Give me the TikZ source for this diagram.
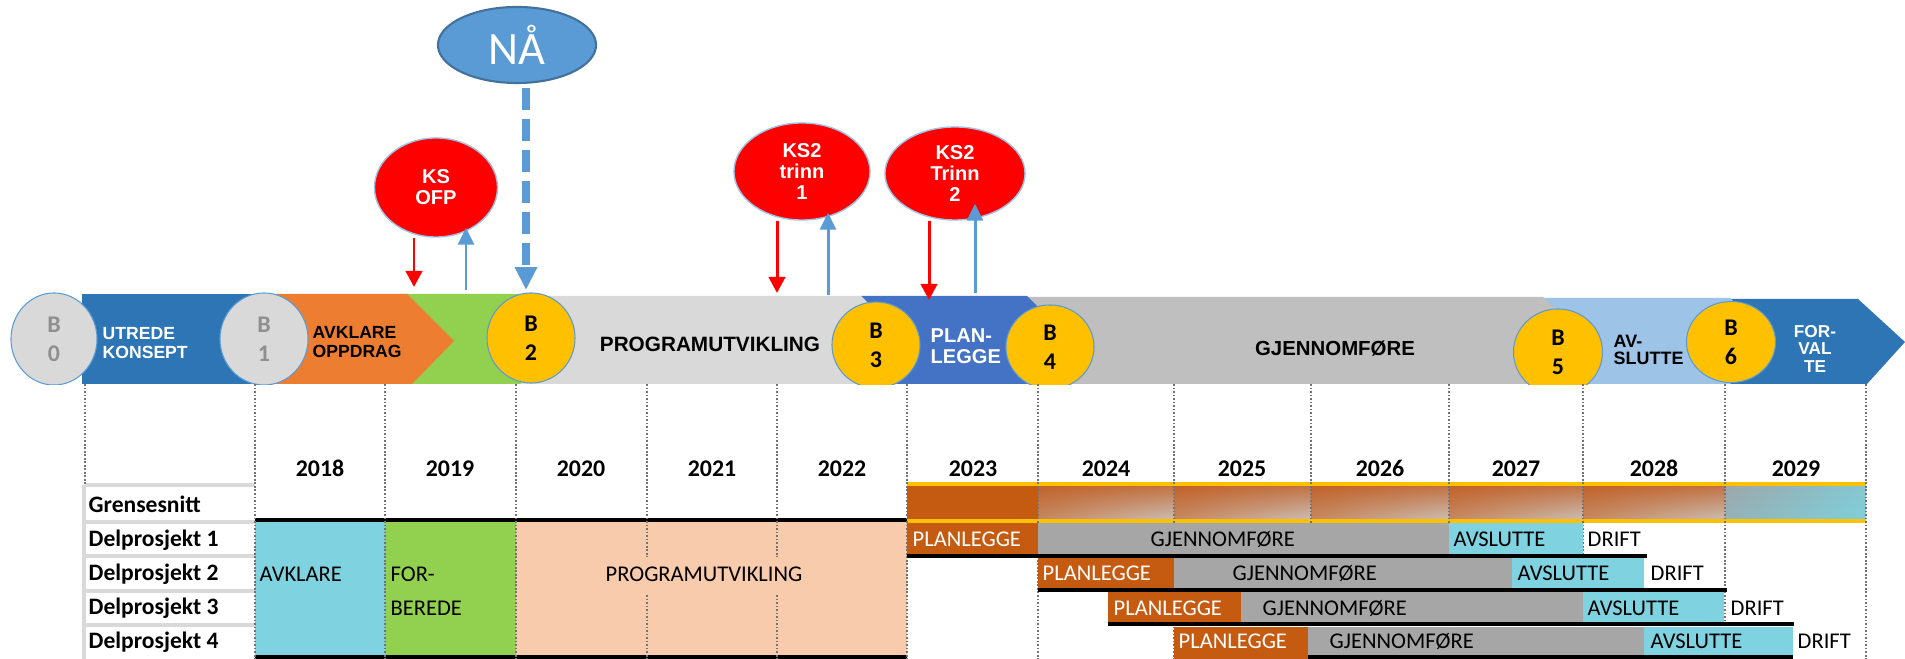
\documentclass[tikz,border=0pt]{standalone}
\usepackage{fontspec}
\setmainfont{Carlito}
\newfontfamily\arialfont{Liberation Sans}
\usetikzlibrary{shapes.geometric,arrows.meta,calc,shadings}

\definecolor{utredeblue}{HTML}{2E75B6}
\definecolor{avklareorange}{HTML}{ED7D31}
\definecolor{forberedegreen}{HTML}{92D050}
\definecolor{progutvgrey}{HTML}{D9D9D9}
\definecolor{planblue}{HTML}{4472C4}
\definecolor{gjenbandgrey}{HTML}{BFBFBF}
\definecolor{avsluttblue}{HTML}{9DC3E6}
\definecolor{gategold}{HTML}{FFC000}
\definecolor{gategrey}{HTML}{8F8F8F}
\definecolor{lineblue}{HTML}{5B9BD5}
\definecolor{naaborder}{HTML}{41719C}
\definecolor{ksred}{HTML}{FF0000}
\definecolor{planorange}{HTML}{C55A11}
\definecolor{gjengrey}{HTML}{A6A6A6}
\definecolor{avslcyan}{HTML}{7FD3E0}
\definecolor{peachcell}{HTML}{F8CBAD}
\definecolor{gsul}{HTML}{C2632A}
\definecolor{gsur}{HTML}{C27344}
\definecolor{gsll}{HTML}{C58760}
\definecolor{gslr}{HTML}{CBBDB3}
\definecolor{gsslate}{HTML}{9CA7AB}
\definecolor{gsteal}{HTML}{7FCFDA}

\begin{document}
\begin{tikzpicture}[
    x=0.01cm, y=-0.01cm,
    gate node/.style={ellipse, draw=lineblue, line width=0.3pt, inner sep=0pt, align=center,
        font=\bfseries\fontsize{6.8}{8.2}\selectfont},
    ks node/.style={ellipse, fill=ksred, draw=avsluttblue, line width=0.4pt, inner sep=0pt,
        align=center, text=white, font=\arialfont\bfseries\fontsize{5.7}{6}\selectfont},
    band text/.style={anchor=west, inner sep=0pt, align=left},
    row label/.style={anchor=base west, inner sep=0pt, font=\bfseries\fontsize{6.7}{8}\selectfont},
    year label/.style={anchor=base, inner sep=0pt, font=\bfseries\fontsize{6.8}{8}\selectfont},
    cell text/.style={anchor=base west, inner sep=0pt, font=\fontsize{6.4}{8.2}\selectfont},
    grensesnitt cell/.style={upper left=gsul, upper right=gsur, lower left=gsll, lower right=gslr},
    grid line/.style={draw=black!55, line width=0.4pt, dash pattern=on 0.5pt off 0.5pt},
    row rule/.style={draw=progutvgrey, line width=1.1pt},
    bar rule/.style={draw=black, line width=1.1pt},
    down arrow/.style={draw=ksred, line width=0.85pt, -{Triangle[width=4.7pt,length=4.6pt]}},
    up arrow/.style={draw=lineblue, line width=0.85pt, -{Triangle[width=4.5pt,length=4.8pt]}},
    now arrow/.style={draw=lineblue, line width=2pt, dash pattern=on 6.2pt off 2.6pt,
        -{Triangle[width=6pt,length=6.5pt]}},
]
\useasboundingbox (0,0) rectangle (1905,659);

% phase band, right to left so that each tip lies over the next part
\fill[utredeblue] (1724,299) -- (1858,299) -- (1905,342) -- (1867,384) -- (1724,384) -- cycle;
\fill[avsluttblue] (1543,298) -- (1730,298) -- (1775,341) -- (1730,384) -- (1543,384) -- cycle;
\fill[gjenbandgrey] (1026,297) -- (1543,297) -- (1588,340) -- (1543,384) -- (1026,384) -- cycle;
\fill[planblue] (861,296) -- (1027,296) -- (1071,340) -- (1027,384) -- (861,384) -- cycle;
\fill[progutvgrey] (500,296) -- (861,296) -- (905,340) -- (861,384) -- (500,384) -- cycle;
\fill[forberedegreen] (400,294) -- (520,294) -- (565,339) -- (520,384) -- (400,384) -- cycle;
\fill[avklareorange] (262,294) -- (407,294) -- (454,341) -- (412,384) -- (262,384) -- cycle;
\fill[utredeblue] (82,294) rectangle (270,384);

\node[band text, text=white, font=\arialfont\bfseries\fontsize{5}{5.4}\selectfont] (utrede) at (102,343) {UTREDE\\KONSEPT};
\node[band text, font=\arialfont\bfseries\fontsize{5}{5.4}\selectfont] (avklare) at (312,342) {AVKLARE\\OPPDRAG};
\node[anchor=base, inner sep=0pt, font=\arialfont\bfseries\fontsize{5.9}{6}\selectfont] (progutv) at (710,352) {PROGRAMUTVIKLING};
\node[band text, text=white, font=\arialfont\bfseries\fontsize{5.7}{6}\selectfont] (planlegge) at (930,346.5) {PLAN-\\LEGGE};
\node[anchor=base, inner sep=0pt, font=\arialfont\bfseries\fontsize{5.8}{6}\selectfont] (gjennomf) at (1335,356) {GJENNOMFØRE};
\node[band text, font=\arialfont\bfseries\fontsize{5.1}{4.85}\selectfont] (avslutte) at (1613,349.5) {AV-\\SLUTTE};
\node[inner sep=0pt, align=center, text=white, font=\arialfont\bfseries\fontsize{4.9}{5.1}\selectfont] (forvalte) at (1815,349) {FOR-\\VAL\\TE};

% decision gates
\begin{scope}
    \clip (0,0) rectangle (1905,385);
    \node[gate node, fill=progutvgrey, text=gategrey, minimum width=0.86cm, minimum height=0.92cm] (b0) at (54,339) {B\\0};
    \node[gate node, fill=progutvgrey, text=gategrey, minimum width=0.88cm, minimum height=0.92cm] (b1) at (264,339) {B\\1};
    \node[gate node, fill=gategold, minimum width=0.88cm, minimum height=0.90cm] (b2) at (531,338) {B\\2};
    \node[gate node, fill=gategold, minimum width=0.88cm, minimum height=0.86cm] (b3) at (876,345) {B\\3};
    \node[gate node, fill=gategold, minimum width=0.88cm, minimum height=0.84cm] (b4) at (1050,347) {B\\4};
    \node[gate node, fill=gategold, minimum width=0.89cm, minimum height=0.86cm] (b5) at (1558,352) {B\\5};
    \node[gate node, fill=gategold, minimum width=0.89cm, minimum height=0.81cm] (b6) at (1731,342) {B\\6};
\end{scope}

% quality checks and now
\node[ks node, minimum width=1.23cm, minimum height=0.99cm] (ksofp) at (436,187.5) {KS\\OFP};
\node[ks node, minimum width=1.36cm, minimum height=0.97cm] (kstrinnone) at (802,171.5) {KS2\\trinn\\1};
\node[ks node, minimum width=1.40cm, minimum height=0.93cm] (kstrinntwo) at (955,173.5) {KS2\\Trinn\\2};
\node[ellipse, fill=lineblue, draw=naaborder, line width=0.6pt, inner sep=0pt, minimum width=1.58cm,
    minimum height=0.76cm, text=white, font=\fontsize{13.2}{14}\selectfont] (naa) at (517,45) {NÅ};

\coordinate (nowtip) at (526,290);
\coordinate (ofpdown) at (414,287);
\coordinate (ofpup) at (466,290);
\coordinate (trinnonedown) at (777,293);
\coordinate (trinnoneup) at (828,295);
\coordinate (trinntwodown) at (929,300);
\coordinate (trinntwoup) at (975,293);

\path (naa.south -| nowtip) edge[now arrow, shorten <=0.04cm] (nowtip);
\path (ksofp.south -| ofpdown) edge[down arrow] (ofpdown);
\path (ofpup) edge[up arrow] ($(ofpup |- ksofp.south)+(0,-10)$);
\path (kstrinnone.south -| trinnonedown) edge[down arrow] (trinnonedown);
\path (trinnoneup) edge[up arrow] ($(trinnoneup |- kstrinnone.south)+(0,-8)$);
\path (kstrinntwo.south -| trinntwodown) edge[down arrow] (trinntwodown);
\path (trinntwoup) edge[up arrow] ($(trinntwoup |- kstrinntwo.south)+(0,-17)$);

% table: label column
\draw[row rule] (85,485) -- (255,485) (85,522) -- (255,522) (85,556) -- (255,556)
    (85,591) -- (255,591) (85,625) -- (255,625);
\draw[row rule] (84,485) -- (84,659);

% grensesnitt row
\fill[planorange] (907,486) rectangle (1038,519);
\shade[grensesnitt cell] (1038,486) rectangle (1174,519);
\shade[grensesnitt cell] (1174,486) rectangle (1311,519);
\shade[grensesnitt cell] (1311,486) rectangle (1449,519);
\shade[grensesnitt cell] (1449,486) rectangle (1583,519);
\shade[grensesnitt cell] (1583,486) rectangle (1725,519);
\shade[upper left=gsslate, upper right=gsteal!80!gsslate, lower left=gsslate!70!gsteal, lower right=gsteal] (1725,486) rectangle (1866,519);
\draw[gategold, line width=1.1pt] (907,484) -- (1866,484) (907,521) -- (1866,521);

% first phases, shared by all parts
\fill[avslcyan] (255,522) rectangle (385,657);
\fill[forberedegreen] (385,522) rectangle (516,657);
\fill[peachcell] (516,522) rectangle (907,657);
\draw[bar rule] (255,520) -- (907,520) (255,657) -- (907,657);

\draw[grid line] (85,384) -- (85,485) (255,384) -- (255,659) (385,384) -- (385,659)
    (516,384) -- (516,659) (647,384) -- (647,659) (777,384) -- (777,659)
    (907,384) -- (907,659) (1038,384) -- (1038,659) (1174,384) -- (1174,659)
    (1311,384) -- (1311,659) (1449,384) -- (1449,659) (1583,384) -- (1583,659)
    (1725,384) -- (1725,659) (1866,384) -- (1866,659);

% delprosjekt 1
\fill[planorange] (907,523) rectangle (1038,554);
\fill[gjengrey] (1038,523) rectangle (1449,554);
\fill[avslcyan] (1449,523) rectangle (1583,554);
\draw[bar rule] (907,556) -- (1647,556);
% delprosjekt 2
\fill[planorange] (1038,558) rectangle (1174,588);
\fill[gjengrey] (1174,558) rectangle (1512,588);
\fill[avslcyan] (1512,558) rectangle (1644,588);
\draw[bar rule] (1038,590) -- (1727,590);
% delprosjekt 3
\fill[planorange] (1108,592) rectangle (1241,622);
\fill[gjengrey] (1241,592) rectangle (1583,622);
\fill[avslcyan] (1583,592) rectangle (1724,622);
\draw[bar rule] (1108,624) -- (1794,624);
% delprosjekt 4
\fill[planorange] (1174,627) rectangle (1308,659);
\fill[gjengrey] (1308,627) rectangle (1644,656);
\fill[avslcyan] (1644,627) rectangle (1793,656);
\draw[bar rule] (1308,657) -- (1793,657);

% years
\node[year label] (y2018) at (320,477) {2018};
\node[year label] (y2019) at (450,477) {2019};
\node[year label] (y2020) at (581,477) {2020};
\node[year label] (y2021) at (712,477) {2021};
\node[year label] (y2022) at (842,477) {2022};
\node[year label] (y2023) at (973,477) {2023};
\node[year label] (y2024) at (1106,477) {2024};
\node[year label] (y2025) at (1242,477) {2025};
\node[year label] (y2026) at (1380,477) {2026};
\node[year label] (y2027) at (1516,477) {2027};
\node[year label] (y2028) at (1654,477) {2028};
\node[year label] (y2029) at (1796,477) {2029};

% row labels
\node[row label] (grensesnitt) at (88,513) {Grensesnitt};
\node[row label] (delone) at (88,547) {Delprosjekt 1};
\node[row label] (deltwo) at (88,581) {Delprosjekt 2};
\node[row label] (delthree) at (88,615) {Delprosjekt 3};
\node[row label] (delfour) at (88,649) {Delprosjekt 4};

% cell texts
\node[cell text] (avklarecell) at (259,582) {AVKLARE};
\node[cell text, anchor=west, align=left, font=\fontsize{6.4}{9.7}\selectfont] (forberede) at (390,591.5) {FOR-\\BEREDE};
\node[cell text, anchor=base, fill=peachcell, inner xsep=2pt, inner ysep=3pt] (progutvcell) at (704,582) {PROGRAMUTVIKLING};

\node[cell text, text=white] (planone) at (912,547) {PLANLEGGE};
\node[cell text] (gjenone) at (1150,547) {GJENNOMFØRE};
\node[cell text] (avslone) at (1453,547) {AVSLUTTE};
\node[cell text] (driftone) at (1587,547) {DRIFT};

\node[cell text, text=white] (plantwo) at (1042,581) {PLANLEGGE};
\node[cell text] (gjentwo) at (1232,581) {GJENNOMFØRE};
\node[cell text] (avsltwo) at (1517,581) {AVSLUTTE};
\node[cell text] (drifttwo) at (1650,581) {DRIFT};

\node[cell text, text=white] (planthree) at (1113,615.5) {PLANLEGGE};
\node[cell text] (gjenthree) at (1262,615.5) {GJENNOMFØRE};
\node[cell text] (avslthree) at (1587,615.5) {AVSLUTTE};
\node[cell text] (driftthree) at (1730,615.5) {DRIFT};

\node[cell text, text=white] (planfour) at (1178,649) {PLANLEGGE};
\node[cell text] (gjenfour) at (1329,649) {GJENNOMFØRE};
\node[cell text] (avslfour) at (1650,649) {AVSLUTTE};
\node[cell text] (driftfour) at (1797,649) {DRIFT};
\end{tikzpicture}
\end{document}
